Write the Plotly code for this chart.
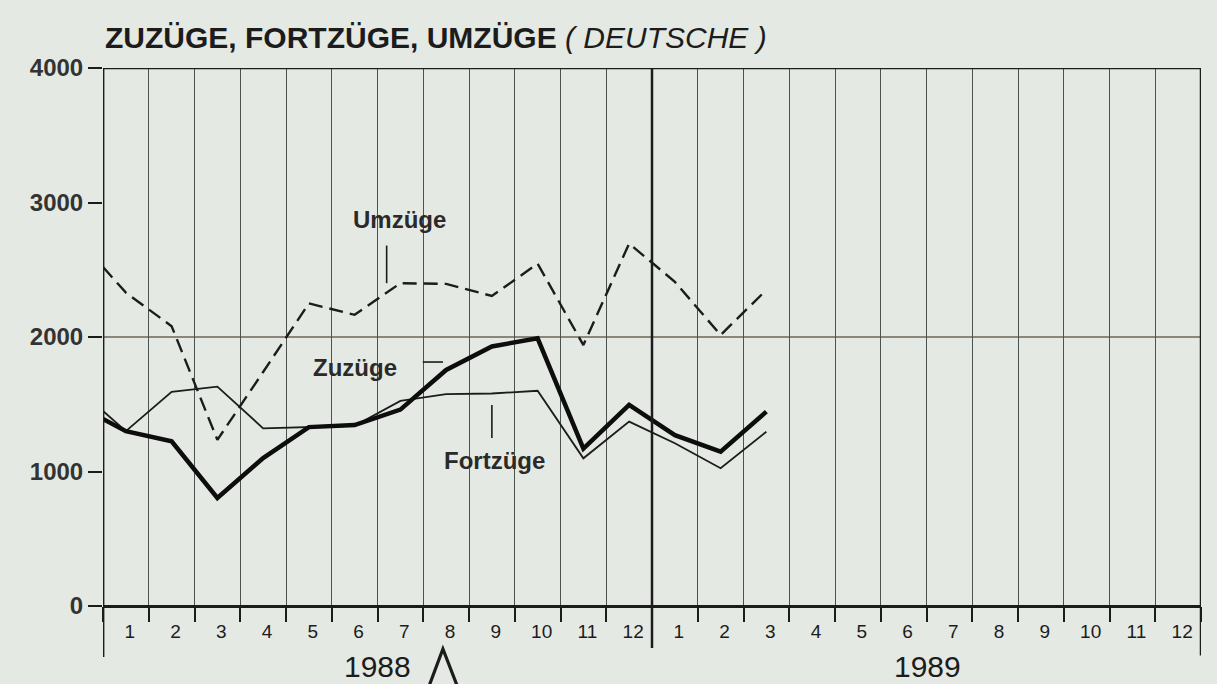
import plotly.graph_objects as go

# ---- data ----
months_1988 = [str(m) for m in range(1, 13)]
months_1989 = [str(m) for m in range(1, 13)]
month_labels = months_1988 + months_1989
years = ["1988", "1989"]

# values Jan 1988 .. Mar 1989 (15 months); start value at left edge (carry-over)
umzuege_start = 2520
umzuege = [2330, 2080, 1235, 1740, 2250, 2165, 2400, 2395, 2305, 2545, 1940, 2695, 2410, 2015, 2350]
zuzuege_start = 1390
zuzuege = [1300, 1225, 803, 1100, 1330, 1345, 1460, 1755, 1930, 1990, 1170, 1495, 1270, 1147, 1445]
fortzuege_start = 1450
fortzuege = [1300, 1593, 1631, 1321, 1333, 1340, 1525, 1575, 1580, 1600, 1098, 1371, 1210, 1024, 1296]

y_ticks = [0, 1000, 2000, 3000, 4000]

BG = "#e5e9e3"
INK = "#1c1c1c"
FONT = "Liberation Sans, Arial, sans-serif"

n_months = len(month_labels)
xc = list(range(1, n_months + 1))                       # month centres
x_series = [0.5] + xc[:len(umzuege)]                      # start at left axis edge
bounds = [k + 0.5 for k in range(0, n_months + 1)]        # month boundaries

fig = go.Figure()
fig.add_trace(go.Scatter(x=x_series, y=[umzuege_start] + umzuege, mode="lines",
                         line=dict(color=INK, width=2.4, dash="14px,7px"), name="Umzüge"))
fig.add_trace(go.Scatter(x=x_series, y=[fortzuege_start] + fortzuege, mode="lines",
                         line=dict(color=INK, width=1.8), name="Fortzüge"))
fig.add_trace(go.Scatter(x=x_series, y=[zuzuege_start] + zuzuege, mode="lines",
                         line=dict(color="#0d0d0d", width=4.5), name="Zuzüge"))

shapes = []
# horizontal 2000 line
shapes.append(dict(type="line", xref="paper", yref="y", x0=0, x1=1, y0=2000, y1=2000,
                   line=dict(color="#8a877a", width=2), layer="below"))
# top border 4000
shapes.append(dict(type="line", xref="paper", yref="y", x0=0, x1=1, y0=4000, y1=4000,
                   line=dict(color=INK, width=2.5)))
# year divider and axis edges extended below
shapes.append(dict(type="line", xref="x", yref="paper", x0=bounds[12], x1=bounds[12], y0=-0.078, y1=1,
                   line=dict(color=INK, width=2.5)))
shapes.append(dict(type="line", xref="x", yref="paper", x0=bounds[0], x1=bounds[0], y0=-0.095, y1=1,
                   line=dict(color=INK, width=2.8)))
shapes.append(dict(type="line", xref="x", yref="paper", x0=bounds[-1], x1=bounds[-1], y0=-0.092, y1=1,
                   line=dict(color=INK, width=2.5)))
# pointer marks for labels
shapes.append(dict(type="line", xref="x", yref="y", x0=6.7, x1=6.7, y0=2400, y1=2680,
                   line=dict(color=INK, width=1.6)))
shapes.append(dict(type="line", xref="x", yref="y", x0=7.49, x1=7.93, y0=1814, y1=1814,
                   line=dict(color=INK, width=1.6)))
shapes.append(dict(type="line", xref="x", yref="y", x0=9.0, x1=9.0, y0=1250, y1=1494,
                   line=dict(color=INK, width=1.6)))
# caret mark next to 1988
shapes.append(dict(type="path", xref="x", yref="paper",
                   path="M 7.63,-0.148 L 7.93,-0.080 L 8.24,-0.148",
                   line=dict(color=INK, width=3.2)))

annotations = [
    dict(xref="paper", yref="paper", x=0.0, y=1.056, xanchor="left", yanchor="middle", showarrow=False,
         text="<b>ZUZÜGE, FORTZÜGE, UMZÜGE</b> <i>( DEUTSCHE )</i>",
         font=dict(family=FONT, size=30, color=INK)),
    dict(xref="x", yref="y", x=6.99, y=2870, showarrow=False, text="<b>Umzüge</b>",
         font=dict(family=FONT, size=24, color="#2a2a2a")),
    dict(xref="x", yref="y", x=6.01, y=1770, showarrow=False, text="<b>Zuzüge</b>",
         font=dict(family=FONT, size=24, color="#2a2a2a")),
    dict(xref="x", yref="y", x=9.05, y=1085, showarrow=False, text="<b>Fortzüge</b>",
         font=dict(family=FONT, size=24, color="#2a2a2a")),
    dict(xref="x", yref="paper", x=6.5, y=-0.113, yanchor="middle", showarrow=False, text=years[0],
         font=dict(family=FONT, size=30, color=INK)),
    dict(xref="x", yref="paper", x=18.53, y=-0.113, yanchor="middle", showarrow=False, text=years[1],
         font=dict(family=FONT, size=30, color=INK)),
]

fig.update_layout(
    width=1217, height=684, autosize=False,
    margin=dict(l=103, r=16, t=68, b=78),
    paper_bgcolor=BG, plot_bgcolor=BG,
    showlegend=False,
    shapes=shapes, annotations=annotations,
    xaxis=dict(range=[bounds[0], bounds[-1]], tickmode="array", tickvals=xc, ticktext=month_labels,
               ticks="", showgrid=False, zeroline=False, showline=False,
               ticklabelstandoff=12, ticklabelshift=4,
               tickfont=dict(family=FONT, size=19, color=INK),
               minor=dict(tickmode="array", tickvals=bounds, ticks="outside", ticklen=15, tickwidth=1.5,
                          tickcolor=INK, showgrid=True, gridcolor="#4b5250", gridwidth=1.2)),
    yaxis=dict(range=[0, 4000], tickmode="array", tickvals=y_ticks, ticks="outside", ticklen=14,
               tickwidth=2, tickcolor=INK, showgrid=False, zeroline=True, zerolinecolor=INK,
               zerolinewidth=3, showline=False,
               tickfont=dict(family=FONT, size=24, color="#333333", weight="bold")),
)

fig.write_html("out.html", config={"displayModeBar": False},
               post_script="document.body.style.margin='0';document.body.style.background='%s';" % BG)
